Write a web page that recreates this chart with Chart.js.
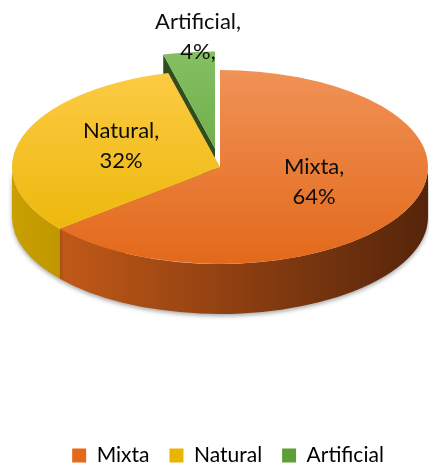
<!DOCTYPE html>
<html>
<head>
<meta charset="utf-8">
<script src="https://cdn.jsdelivr.net/npm/chart.js@4.4.0/dist/chart.umd.min.js"></script>
<style>
  html, body { margin: 0; padding: 0; background: #fff; }
  #wrap { width: 429px; height: 464px; }
</style>
</head>
<body>
<div id="wrap"><canvas id="pieChart"></canvas></div>
<script>
// Values
const categories = ["Mixta", "Natural", "Artificial"];
const shares = [64, 32, 4];

// Colours (top face light/dark, side wall light/dark, cut faces)
const topLight = ["#F09256", "#FCCB45", "#84C062"];
const topDark = ["#E3691B", "#EAB400", "#5E9E36"];
const wallLight = ["#CF6019", "#C9A000", "#4E8A2A"];
const wallDark = ["#55240A", "#6E5400", "#2C4A18"];
const cutColor = ["#7A3510", "#8C6D00", "#2F4D1D"];

// 3D look
const TILT = 0.466;     // vertical squash of the top face
const DEPTH = 50;       // thickness of the pie in px
const CENTER_X = 220;   // where the centre of the top face sits
const CENTER_Y = 167;
const RADIUS = 208;
const EXPLODE = 40;     // pull-out of the small slice
const explodedIndex = categories.indexOf("Artificial");

Chart.defaults.font.family = "Lato";

function shiftOf(arc, i) {
  const d = i === explodedIndex ? EXPLODE : 0;
  const mid = (arc.startAngle + arc.endAngle) / 2;
  return { x: Math.cos(mid) * d, y: Math.sin(mid) * d };
}

// radial cut face of a slice (only shows where a slice is pulled out)
function drawCut(ctx, arc, i, a, isStart) {
  const visible = isStart ? Math.cos(a) < 0 : Math.cos(a) > 0;
  if (!visible) return;
  const sh = shiftOf(arc, i);
  const R = arc.outerRadius;
  const cx = CENTER_X + sh.x, cy = CENTER_Y + sh.y * TILT;
  const ex = cx + Math.cos(a) * R, ey = cy + Math.sin(a) * R * TILT;
  ctx.beginPath();
  ctx.moveTo(cx, cy);
  ctx.lineTo(ex, ey);
  ctx.lineTo(ex, ey + DEPTH);
  ctx.lineTo(cx, cy + DEPTH);
  ctx.closePath();
  ctx.fillStyle = cutColor[i];
  ctx.fill();
}

// outer wall on the front half
function drawWall(ctx, arc, i) {
  const sh = shiftOf(arc, i);
  const R = arc.outerRadius;
  const cx = CENTER_X + sh.x, cy = CENTER_Y + sh.y * TILT;
  for (let k = -1; k <= 1; k++) {
    const a0 = Math.max(arc.startAngle + k * 2 * Math.PI, 0);
    const a1 = Math.min(arc.endAngle + k * 2 * Math.PI, Math.PI);
    if (a1 <= a0) continue;
    const g = ctx.createLinearGradient(CENTER_X - R, 0, CENTER_X + R, 0);
    g.addColorStop(0, wallLight[i]);
    g.addColorStop(1, wallDark[i]);
    ctx.beginPath();
    ctx.ellipse(cx, cy, R, R * TILT, 0, a0, a1, false);
    ctx.lineTo(cx + Math.cos(a1) * R, cy + Math.sin(a1) * R * TILT + DEPTH);
    ctx.ellipse(cx, cy + DEPTH, R, R * TILT, 0, a1, a0, true);
    ctx.closePath();
    ctx.save();
    ctx.shadowColor = "rgba(0,0,0,0.35)";
    ctx.shadowBlur = 4;
    ctx.shadowOffsetY = 2;
    ctx.fillStyle = g;
    ctx.fill();
    ctx.restore();
  }
}

const pie3d = {
  id: "pie3d",
  beforeDatasetDraw(chart, args) {
    const ctx = chart.ctx;
    const arcs = args.meta.data;
    arcs.forEach((arc, i) => {
      drawCut(ctx, arc, i, arc.startAngle, true);
      drawCut(ctx, arc, i, arc.endAngle, false);
    });
    arcs.forEach((arc, i) => drawWall(ctx, arc, i));
    // top faces, drawn by the arc elements under a squash transform
    arcs.forEach((arc, i) => {
      const sh = shiftOf(arc, i);
      ctx.save();
      ctx.translate(CENTER_X - arc.x + sh.x, CENTER_Y);
      ctx.scale(1, TILT);
      ctx.translate(0, sh.y - arc.y);
      arc.draw(ctx);
      ctx.restore();
    });
    return false;
  },
  afterDatasetsDraw(chart) {
    const ctx = chart.ctx;
    const arcs = chart.getDatasetMeta(0).data;
    ctx.save();
    ctx.font = "22px Lato";
    ctx.fillStyle = "#0d0d0d";
    ctx.textAlign = "center";
    ctx.textBaseline = "middle";
    arcs.forEach((arc, i) => {
      const sh = shiftOf(arc, i);
      const mid = (arc.startAngle + arc.endAngle) / 2;
      const R = arc.outerRadius;
      const small = shares[i] < 10;
      if (small) {
        const x = CENTER_X + sh.x + Math.cos(mid) * R * 0.65;
        const y = CENTER_Y + (sh.y + Math.sin(mid) * R) * TILT;
        ctx.fillText(categories[i] + ",", x, y - 30);
        ctx.fillText(shares[i] + "%,", x, y);
      } else {
        const x = CENTER_X + sh.x + Math.cos(mid) * R * 0.5;
        const y = CENTER_Y + (sh.y + Math.sin(mid) * R * 0.5) * TILT - 6;
        ctx.fillText(categories[i] + ",", x, y - 15);
        ctx.fillText(shares[i] + "%", x, y + 15);
      }
    });
    ctx.restore();
  }
};

function topFill(c) {
  const i = c.dataIndex;
  const area = c.chart.chartArea;
  if (!area) return topDark[i];
  const cy = (area.top + area.bottom) / 2;
  const g = c.chart.ctx.createLinearGradient(0, cy - RADIUS, 0, cy + RADIUS);
  g.addColorStop(0, topLight[i]);
  g.addColorStop(1, topDark[i]);
  return g;
}

new Chart(document.getElementById("pieChart"), {
  type: "pie",
  data: {
    labels: categories,
    datasets: [{
      data: shares,
      backgroundColor: topFill,
      borderWidth: 0,
      clip: false,
    }],
  },
  options: {
    responsive: true,
    maintainAspectRatio: false,
    animation: false,
    radius: RADIUS,
    layout: { padding: { left: 27, right: 0, top: 0, bottom: -12 } },
    plugins: {
      tooltip: { enabled: false },
      legend: {
        position: "bottom",
        labels: {
          boxWidth: 14,
          boxHeight: 14,
          padding: 20,
          color: "#0d0d0d",
          font: { size: 21, lineHeight: 1 },
          generateLabels: () => categories.map((name, i) => ({
            text: name,
            fillStyle: topDark[i],
            strokeStyle: "rgba(0,0,0,0)",
            lineWidth: 0,
            hidden: false,
            index: i,
          })),
        },
      },
    },
  },
  plugins: [pie3d],
});
</script>
</body>
</html>
